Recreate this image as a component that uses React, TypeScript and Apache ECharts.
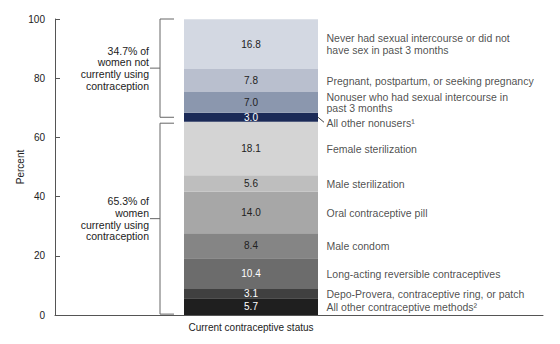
import React, { useEffect, useRef } from 'react';
import * as echarts from 'echarts';

const categories = ['Current contraceptive status'];

// bottom to top
const segmentNames = [
  'All other contraceptive methods²',
  'Depo-Provera, contraceptive ring, or patch',
  'Long-acting reversible contraceptives',
  'Male condom',
  'Oral contraceptive pill',
  'Male sterilization',
  'Female sterilization',
  'All other nonusers¹',
  'Nonuser who had sexual intercourse in\npast 3 months',
  'Pregnant, postpartum, or seeking pregnancy',
  'Never had sexual intercourse or did not\nhave sex in past 3 months',
];
const segmentValues = [5.7, 3.1, 10.4, 8.4, 14.0, 5.6, 18.1, 3.0, 7.0, 7.8, 16.8];
const segmentColors = [
  '#1f1f1f', '#404040', '#6c6c6c', '#858585', '#a7a7a7', '#bebebe', '#d4d4d4',
  '#1b2a57', '#8b97ae', '#b9bfce', '#d3d8e2',
];
const valueLabelColors = [
  '#ffffff', '#ffffff', '#ffffff', '#222222', '#222222', '#222222', '#222222',
  '#ffffff', '#222222', '#222222', '#222222',
];
const nameLabelOffsets = [
  [0, 0], [0, 0], [0, 0], [0, 0], [0, 0], [0, 0], [0, 0], [0, 6], [0, 0], [0, 0], [0, 0],
];
const yTicks = [0, 20, 40, 60, 80, 100];

const groupTexts = [
  '34.7% of\nwomen not\ncurrently using\ncontraception',
  '65.3% of\nwomen\ncurrently using\ncontraception',
];
// bracket extents in percent (top, bottom)
const groupRanges = [
  [100, 66.8],
  [64.8, 0.3],
];

export default function App() {
  const ref = useRef<HTMLDivElement>(null);
  useEffect(() => {
    const chart = echarts.init(ref.current!, null, { renderer: 'svg' });
    const font = "'Liberation Sans', Arial, sans-serif";
    let acc = 0;
    const centers = segmentValues.map((v) => {
      const c = acc + v / 2;
      acc += v;
      return c;
    });
    const barSeries = segmentValues.map((v, i) => ({
      type: 'bar',
      name: segmentNames[i],
      xAxisIndex: 1,
      yAxisIndex: 1,
      stack: 'total',
      barWidth: '100%',
      data: [v],
      itemStyle: { color: segmentColors[i] },
      label: {
        show: true,
        position: 'inside',
        formatter: v.toFixed(1),
        color: valueLabelColors[i],
        fontSize: 10,
        fontFamily: font,
      },
    }));
    const nameSeries = {
      type: 'scatter',
      xAxisIndex: 1,
      yAxisIndex: 1,
      symbolSize: 1,
      silent: true,
      itemStyle: { color: 'rgba(0,0,0,0)' },
      data: centers.map((c, i) => ({ value: [0, c], label: { offset: nameLabelOffsets[i] } })),
      label: {
        show: true,
        position: 'right',
        distance: 75,
        formatter: (p: any) => segmentNames[p.dataIndex],
        color: '#222',
        fontSize: 10.5,
        lineHeight: 11.5,
        fontFamily: font,
        align: 'left',
      },
    };
    const yMin = yTicks[0];
    const yMax = yTicks[yTicks.length - 1];
    const option: any = {
      animation: false,
      textStyle: { fontFamily: font },
      grid: [
        { left: 55, right: 17, top: 19, bottom: 29 },
        { left: 184, width: 134, top: 19, bottom: 29 },
      ],
      xAxis: [
        {
          gridIndex: 0,
          type: 'category',
          data: [''],
          axisLine: { show: true, lineStyle: { color: '#555', width: 1 } },
          axisTick: { show: false },
          axisLabel: { show: false },
        },
        {
          gridIndex: 1,
          type: 'category',
          data: categories,
          axisLine: { show: false },
          axisTick: { show: false },
          axisLabel: { color: '#222', fontSize: 10, margin: 7, fontFamily: font },
        },
      ],
      yAxis: [
        {
          gridIndex: 0,
          type: 'value',
          min: yMin,
          max: yMax,
          interval: 20,
          name: 'Percent',
          nameLocation: 'middle',
          nameRotate: 90,
          nameGap: 30,
          nameMoveOverlap: false,
          nameTextStyle: { color: '#222', fontSize: 10, fontFamily: font },
          axisLine: { show: true, lineStyle: { color: '#555', width: 1 } },
          axisTick: { show: true, inside: true, length: 5, lineStyle: { color: '#555' } },
          axisLabel: { color: '#222', fontSize: 10, margin: 10, fontFamily: font },
          splitLine: { show: false },
        },
        {
          gridIndex: 1,
          type: 'value',
          min: yMin,
          max: yMax,
          show: false,
          splitLine: { show: false },
        },
      ],
      series: [...barSeries, nameSeries],
    };
    chart.setOption(option);

    const yPix = (v: number) => chart.convertToPixel({ yAxisIndex: 0 }, v) as number;
    const barRight = 318;
    const graphics: any[] = [];
    const bx = 160;
    groupRanges.forEach(([top, bottom], gi) => {
      const y1 = yPix(top);
      const y2 = yPix(bottom);
      const ym = (y1 + y2) / 2;
      const stroke = { stroke: '#666', lineWidth: 1 };
      graphics.push(
        { type: 'line', shape: { x1: bx, y1, x2: bx, y2 }, style: stroke },
        { type: 'line', shape: { x1: bx, y1, x2: bx + 14, y2: y1 }, style: stroke },
        { type: 'line', shape: { x1: bx, y1: y2, x2: bx + 14, y2 }, style: stroke },
        { type: 'line', shape: { x1: bx - 10, y1: ym, x2: bx, y2: ym }, style: stroke },
        {
          type: 'text',
          x: bx - 11,
          y: ym,
          style: {
            text: groupTexts[gi],
            textAlign: 'right',
            textVerticalAlign: 'middle',
            fontSize: 10.5,
            fontFamily: font,
            lineHeight: 11.7,
            fill: '#222',
          },
        }
      );
    });
    // leader line for the offset label (All other nonusers)
    const li = nameLabelOffsets.findIndex((o) => o[1] !== 0);
    if (li >= 0) {
      const ly = yPix(centers[li]);
      graphics.push({
        type: 'line',
        shape: { x1: barRight, y1: ly, x2: barRight + 6, y2: ly + nameLabelOffsets[li][1] - 1 },
        style: { stroke: '#444', lineWidth: 1 },
      });
    }
    chart.setOption({ graphic: graphics });

    return () => chart.dispose();
  }, []);
  return (
    <div
      ref={ref}
      style={{ position: 'fixed', left: 0, top: 0, width: 560, height: 344, background: '#fff' }}
    />
  );
}
